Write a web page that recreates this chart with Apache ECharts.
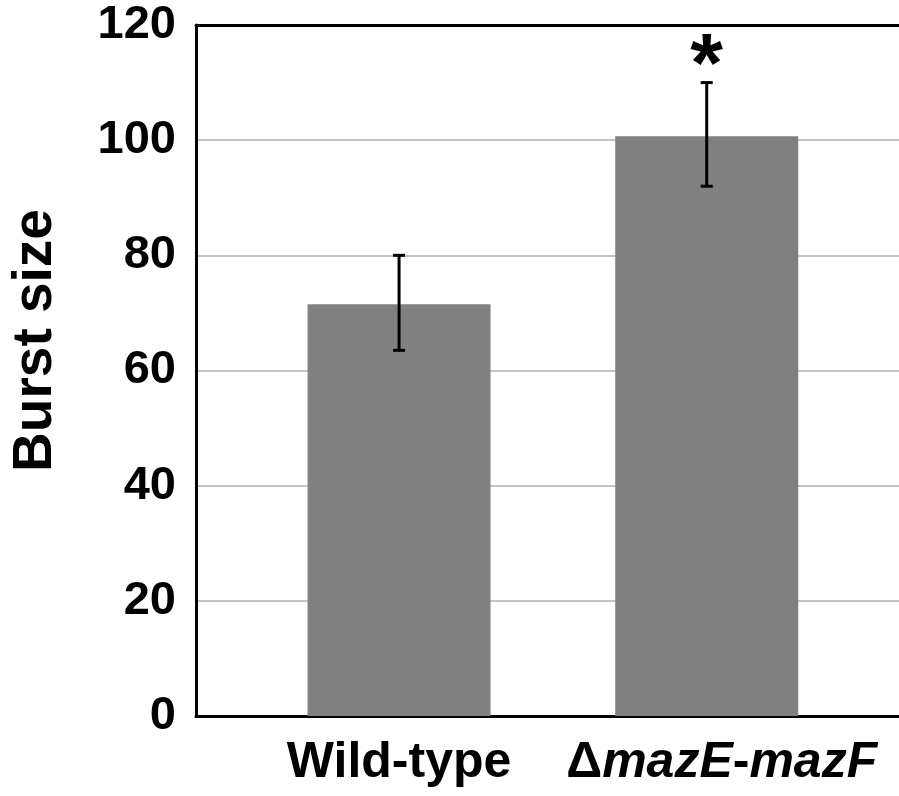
<!DOCTYPE html>
<html>
<head>
<meta charset="utf-8">
<script src="https://cdn.jsdelivr.net/npm/echarts@6/dist/echarts.min.js"></script>
<style>
html,body{margin:0;padding:0;background:#fff;}
#chart{width:899px;height:796px;}
</style>
</head>
<body>
<div id="chart"></div>
<script>
var categories = ['Wild-type', 'ΔmazE-mazF'];
var burstSize = [71.5, 100.7];
var errLow = [63.5, 92];
var errHigh = [80, 110];
var significance = ['', '*'];
var yMin = 0, yMax = 120, yStep = 20;

var FONT = '"Liberation Sans", Arial, Helvetica, sans-serif';

var barData = categories.map(function (c, i) { return [i, burstSize[i]]; });
var errData = categories.map(function (c, i) { return [i, errLow[i], errHigh[i], i]; });

var chart = echarts.init(document.getElementById('chart'), null, {renderer: 'canvas'});
chart.setOption({
  animation: false,
  backgroundColor: '#ffffff',
  grid: {left: 193, right: 0, top: 25, bottom: 80, containLabel: false},
  xAxis: [{
    type: 'value',
    min: -0.66,
    max: 1.625,
    splitLine: {show: false},
    axisLine: {show: true, onZero: false, lineStyle: {color: '#000', width: 3}},
    axisTick: {show: false},
    axisLabel: {
      show: true,
      customValues: [0, 1],
      margin: 22,
      formatter: function (v) {
        var name = categories[Math.round(v)];
        if (name.charAt(0) === 'Δ') {
          return '{d|Δ}{i|mazE}{n|-}{i|mazF}';
        }
        return '{n|' + name + '}';
      },
      rich: {
        n: {fontFamily: FONT, fontWeight: 'bold', fontSize: 50, color: '#000'},
        d: {fontFamily: FONT, fontWeight: 'bold', fontSize: 50, color: '#000', padding: [0, 0, 0, 30]},
        i: {fontFamily: FONT, fontWeight: 'bold', fontStyle: 'italic', fontSize: 50, color: '#000'}
      }
    }
  }, {
    type: 'value',
    position: 'top',
    min: -0.66,
    max: 1.625,
    splitLine: {show: false},
    axisLine: {show: true, onZero: false, lineStyle: {color: '#000', width: 3}},
    axisTick: {show: false},
    axisLabel: {show: false}
  }],
  yAxis: {
    type: 'value',
    min: yMin,
    max: yMax,
    interval: yStep,
    name: 'Burst size',
    nameLocation: 'middle',
    nameRotate: 90,
    nameGap: 133,
    nameTextStyle: {fontFamily: FONT, fontWeight: 'bold', fontSize: 55, color: '#000', padding: [0, 0, 0, 60]},
    axisLine: {show: true, onZero: false, lineStyle: {color: '#000', width: 3}},
    axisTick: {show: false},
    axisLabel: {fontFamily: FONT, fontWeight: 'bold', fontSize: 47, color: '#000', margin: 20},
    splitLine: {show: true, lineStyle: {color: '#c4c4c4', width: 2}}
  },
  series: [{
    type: 'bar',
    data: barData,
    barWidth: 183,
    itemStyle: {color: '#808080'},
    z: 2
  }, {
    type: 'custom',
    data: errData,
    z: 5,
    renderItem: function (params, api) {
      var x = api.value(0);
      var lo = api.coord([x, api.value(1)]);
      var hi = api.coord([x, api.value(2)]);
      var idx = api.value(3);
      var cap = 6;
      var style = {stroke: '#000', lineWidth: 3};
      var children = [
        {type: 'line', shape: {x1: lo[0], y1: lo[1], x2: hi[0], y2: hi[1]}, style: style},
        {type: 'line', shape: {x1: hi[0] - cap, y1: hi[1], x2: hi[0] + cap, y2: hi[1]}, style: style},
        {type: 'line', shape: {x1: lo[0] - cap, y1: lo[1], x2: lo[0] + cap, y2: lo[1]}, style: style}
      ];
      var sig = significance[idx];
      if (sig) {
        children.push({
          type: 'text',
          style: {
            text: sig,
            x: hi[0],
            y: hi[1] + 28,
            align: 'center',
            verticalAlign: 'bottom',
            font: 'bold 84px ' + FONT,
            fill: '#000'
          }
        });
      }
      return {type: 'group', children: children};
    }
  }]
});
</script>
</body>
</html>
